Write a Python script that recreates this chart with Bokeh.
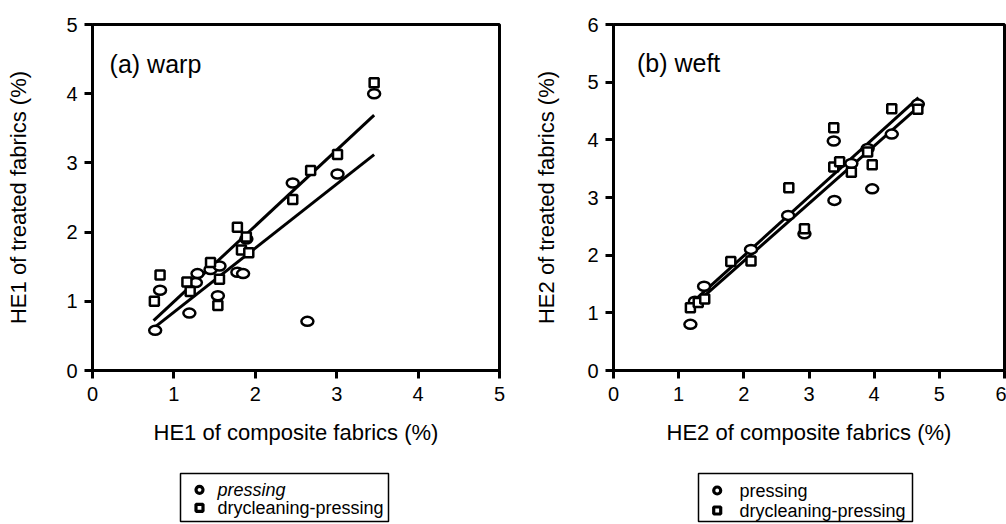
from bokeh.plotting import figure
from bokeh.models import Label, FixedTicker, Spacer
from bokeh.layouts import row, column
from bokeh.embed import file_html
from bokeh.resources import INLINE
from bokeh.core.properties import value

# ---------------- data ----------------
# (a) warp
a_press_x = [0.77, 0.83, 1.19, 1.27, 1.29, 1.45, 1.54, 1.56, 1.78, 1.85, 1.89, 2.46, 2.64, 3.01, 3.46]
a_press_y = [0.58, 1.16, 0.83, 1.27, 1.40, 1.46, 1.08, 1.51, 1.42, 1.40, 1.90, 2.71, 0.71, 2.84, 4.00]
a_dry_x = [0.76, 0.83, 1.16, 1.20, 1.45, 1.54, 1.56, 1.78, 1.83, 1.89, 1.92, 2.46, 2.68, 3.01, 3.46]
a_dry_y = [1.00, 1.38, 1.28, 1.14, 1.56, 0.94, 1.32, 2.07, 1.74, 1.93, 1.70, 2.47, 2.89, 3.12, 4.16]
a_fit_press_x = [0.77, 3.46]
a_fit_press_y = [0.63, 3.12]
a_fit_dry_x = [0.75, 3.46]
a_fit_dry_y = [0.72, 3.69]

# (b) weft
b_press_x = [1.18, 1.25, 1.39, 2.11, 2.68, 2.93, 3.38, 3.39, 3.65, 3.90, 3.97, 4.27, 4.67]
b_press_y = [0.80, 1.20, 1.46, 2.10, 2.69, 2.37, 3.98, 2.95, 3.59, 3.85, 3.15, 4.10, 4.62]
b_dry_x = [1.18, 1.30, 1.40, 1.80, 2.11, 2.69, 2.93, 3.38, 3.38, 3.47, 3.65, 3.90, 3.97, 4.27, 4.67]
b_dry_y = [1.09, 1.18, 1.24, 1.89, 1.90, 3.17, 2.46, 4.21, 3.53, 3.62, 3.44, 3.79, 3.57, 4.54, 4.53]
b_fit_press_x = [1.15, 4.68]
b_fit_press_y = [1.05, 4.57]
b_fit_dry_x = [1.15, 4.68]
b_fit_dry_y = [1.12, 4.73]

a_ticks_x = [0, 1, 2, 3, 4, 5]
a_ticks_y = [0, 1, 2, 3, 4, 5]
b_ticks_x = [0, 1, 2, 3, 4, 5, 6]
b_ticks_y = [0, 1, 2, 3, 4, 5, 6]

FONT = "Liberation Sans"
series_labels = ["pressing", "drycleaning-pressing"]


def style_axes(p, xt, yt, xlabel, ylabel, ystand):
    p.xaxis.ticker = FixedTicker(ticks=xt)
    p.yaxis.ticker = FixedTicker(ticks=yt)
    for ax in (p.xaxis[0], p.yaxis[0]):
        ax.axis_line_width = 3
        ax.axis_line_color = "black"
        ax.major_tick_line_width = 3
        ax.major_tick_line_color = "black"
        ax.major_tick_out = 8
        ax.major_tick_in = 0
        ax.minor_tick_line_color = None
        ax.major_label_text_font = FONT
        ax.major_label_text_font_size = "20px"
        ax.major_label_text_color = "black"
        ax.axis_label_text_font = FONT
        ax.axis_label_text_font_size = "22px"
        ax.axis_label_text_font_style = "normal"
        ax.axis_label_text_color = "black"
    p.xaxis.major_label_standoff = 8
    p.yaxis.major_label_standoff = 7
    p.xaxis.axis_label = xlabel
    p.yaxis.axis_label = ylabel
    p.xaxis.axis_label_standoff = 16
    p.yaxis.axis_label_standoff = ystand
    p.xgrid.grid_line_color = None
    p.ygrid.grid_line_color = None
    p.outline_line_color = "black"
    p.outline_line_width = 3
    p.outline_line_alpha = 1.0
    p.background_fill_color = "white"
    p.border_fill_color = "white"


def draw_panel(p, px, py, dx, dy, fpx, fpy, fdx, fdy):
    p.line(fdx, fdy, line_color="black", line_width=3)
    p.line(fpx, fpy, line_color="black", line_width=3)
    p.ellipse(px, py, width=12, height=9, width_units="screen", height_units="screen",
              fill_color="white", line_color="black", line_width=2.5)
    p.scatter(dx, dy, marker="square", size=9, fill_color="white",
              line_color="black", line_width=2.5)


# ---------------- panel (a) ----------------
pa = figure(width=530, height=460, x_range=(0, 5), y_range=(0, 5),
            toolbar_location=None, output_backend="svg",
            min_border_left=92, min_border_right=31, min_border_top=22, min_border_bottom=90)
style_axes(pa, a_ticks_x, a_ticks_y, "HE1 of composite fabrics (%)", "HE1 of treated fabrics (%)", 32)
draw_panel(pa, a_press_x, a_press_y, a_dry_x, a_dry_y,
           a_fit_press_x, a_fit_press_y, a_fit_dry_x, a_fit_dry_y)
pa.add_layout(Label(x=0.21, y=4.43, text="(a) warp", text_font=FONT,
                    text_font_size="25px", text_baseline="alphabetic", text_color="black"))

# ---------------- panel (b) ----------------
pb = figure(width=476, height=460, x_range=(0, 6), y_range=(0, 6),
            toolbar_location=None, output_backend="svg",
            min_border_left=83, min_border_right=2, min_border_top=24, min_border_bottom=90)
style_axes(pb, b_ticks_x, b_ticks_y, "HE2 of composite fabrics (%)", "HE2 of treated fabrics (%)", 25)
draw_panel(pb, b_press_x, b_press_y, b_dry_x, b_dry_y,
           b_fit_press_x, b_fit_press_y, b_fit_dry_x, b_fit_dry_y)
pb.add_layout(Label(x=0.36, y=5.33, text="(b) weft", text_font=FONT,
                    text_font_size="25px", text_baseline="alphabetic", text_color="black"))


# ---------------- legends (boxed keys under each panel) ----------------
def legend_box(width, mx, tx, rows, italic_first):
    lg = figure(width=width, height=64, x_range=(0, width - 4), y_range=(0, 48),
                x_axis_type=None, y_axis_type=None, toolbar_location=None,
                output_backend="svg", min_border_left=2, min_border_right=2,
                min_border_top=13, min_border_bottom=3)
    lg.xgrid.grid_line_color = None
    lg.ygrid.grid_line_color = None
    lg.outline_line_color = "black"
    lg.outline_line_width = 1.5
    lg.background_fill_color = "white"
    lg.border_fill_color = "white"
    lg.scatter([mx], [rows[0]], marker="circle", size=7, fill_color="white",
               line_color="black", line_width=3.2)
    lg.scatter([mx], [rows[1]], marker="square", size=7, fill_color="white",
               line_color="black", line_width=3.2)
    lg.text([tx], [rows[0]], text=[series_labels[0]], text_font=value(FONT),
            text_font_size="18px", text_baseline="middle",
            text_font_style="italic" if italic_first else "normal", text_color="black")
    lg.text([tx], [rows[1]], text=[series_labels[1]], text_font=value(FONT),
            text_font_size="18px", text_baseline="middle", text_color="black")
    return lg


leg_a = legend_box(212, 19, 37, [31.7, 13.7], True)
leg_b = legend_box(218, 18.7, 41, [31, 11], False)

bottom = row(Spacer(width=178, height=64), leg_a, Spacer(width=306, height=64),
             leg_b, Spacer(width=92, height=64))
layout = column(row(pa, pb), bottom)

open("out.html", "w").write(file_html(layout, INLINE))
